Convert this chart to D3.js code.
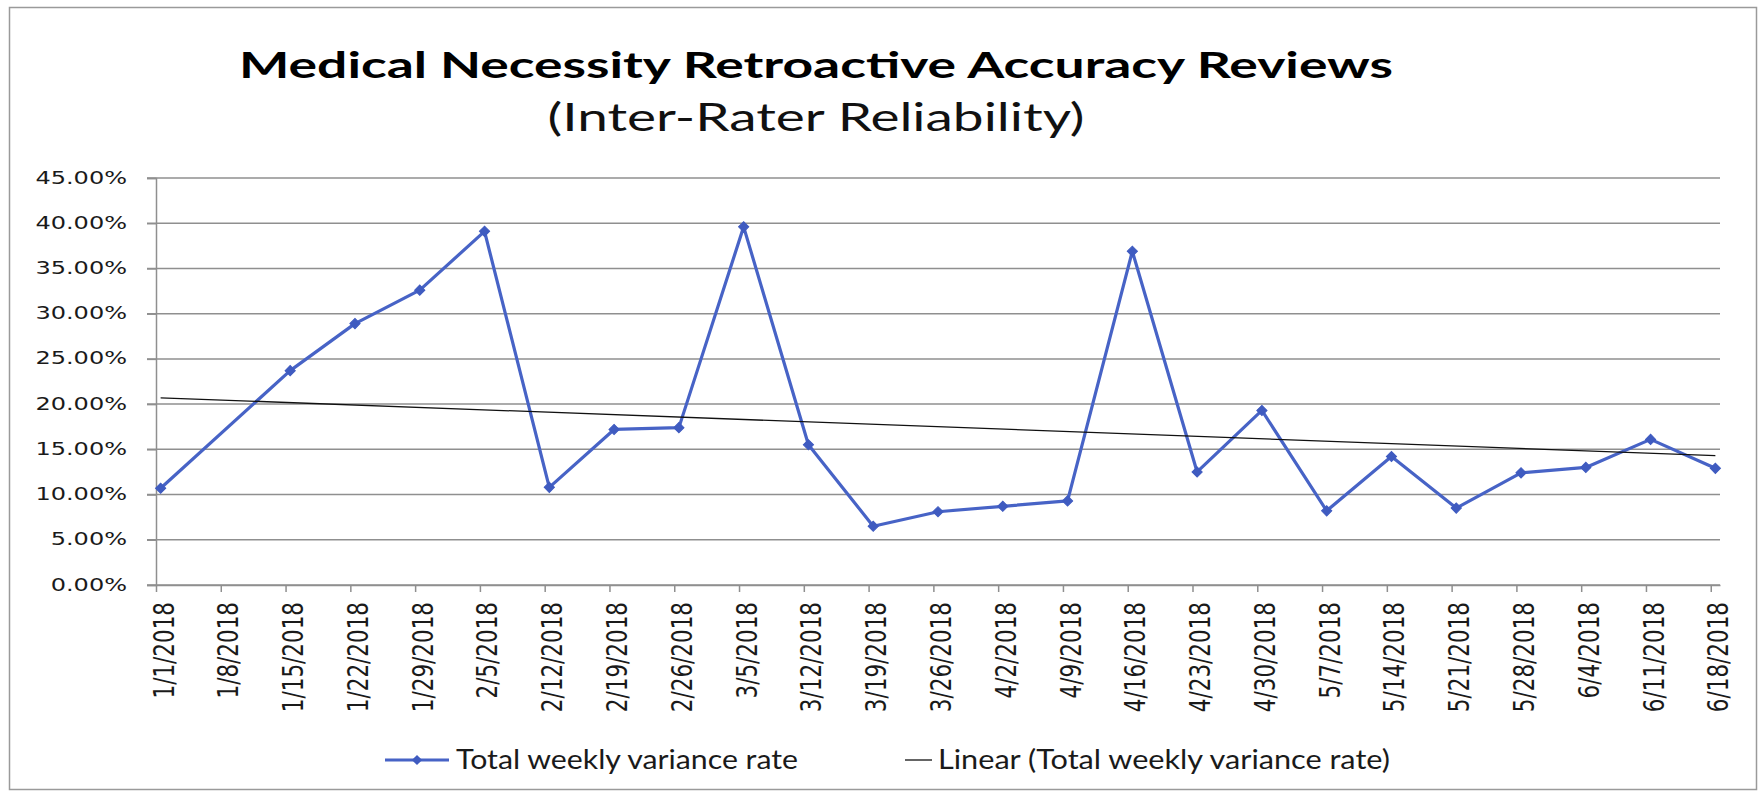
<!DOCTYPE html>
<html>
<head>
<meta charset="utf-8">
<script src="https://cdn.jsdelivr.net/npm/d3@7/dist/d3.min.js"></script>
<style>
  html, body { margin: 0; padding: 0; background: #fff; }
  svg { display: block; }
</style>
</head>
<body>
<svg id="chart" width="1762" height="794"></svg>
<script>
// Weekly review dates (week starting)
const weekLabels = [
  "1/1/2018","1/8/2018","1/15/2018","1/22/2018","1/29/2018","2/5/2018",
  "2/12/2018","2/19/2018","2/26/2018","3/5/2018","3/12/2018","3/19/2018",
  "3/26/2018","4/2/2018","4/9/2018","4/16/2018","4/23/2018","4/30/2018",
  "5/7/2018","5/14/2018","5/21/2018","5/28/2018","6/4/2018","6/11/2018","6/18/2018"
];
// Total weekly variance rate, percent (no review recorded for 1/8)
const varianceRates = [
  10.7, null, 23.7, 28.9, 32.6, 39.1,
  10.8, 17.2, 17.4, 39.6, 15.5, 6.5,
  8.1, 8.7, 9.3, 36.9, 12.5, 19.3,
  8.2, 14.2, 8.5, 12.4, 13.0, 16.1, 12.9
];
// Linear trend values at the first and last week
const trendEnds = [20.7, 14.3];
// Value axis ticks, percent
const yTicks = [0, 5, 10, 15, 20, 25, 30, 35, 40, 45];

const seriesName = "Total weekly variance rate";
const trendName = "Linear (Total weekly variance rate)";
const titleMain = "Medical Necessity Retroactive Accuracy Reviews";
const titleSub = "(Inter-Rater Reliability)";

const parseDate = s => { const [m, d, y] = s.split("/").map(Number); return new Date(y, m - 1, d); };
const dates = weekLabels.map(parseDate);
const halfDay = 12 * 3600 * 1000;

const svg = d3.select("#chart");
const plot = { left: 156, right: 1720, top: 178, bottom: 585 };
const stretch = 1.3;            // wide glyph look of the axis labels
const gridColor = "#8f8f8f";
const blue = "#4763c6";

// Outer chart frame
svg.append("rect")
  .attr("x", 9.5).attr("y", 7.5).attr("width", 1747).attr("height", 782)
  .attr("fill", "#fff").attr("stroke", "#9a9a9a").attr("stroke-width", 1.5);

// Scales: date axis with one slot per day, points centred in their day
const x = d3.scaleTime()
  .domain([dates[0], d3.timeDay.offset(dates[dates.length - 1], 1)])
  .range([plot.left, plot.right]);
const y = d3.scaleLinear().domain([0, 45]).range([plot.bottom, plot.top]);
const px = d => x(new Date(d.getTime() + halfDay));

// Horizontal gridlines
svg.append("g").selectAll("line").data(yTicks).join("line")
  .attr("x1", plot.left - 9).attr("x2", plot.right)
  .attr("y1", d => y(d)).attr("y2", d => y(d))
  .attr("stroke", gridColor).attr("stroke-width", 1.5);

// Value axis
const yAxis = svg.append("g").attr("transform", `translate(${plot.left},0)`)
  .call(d3.axisLeft(y).tickValues(yTicks).tickSize(9).tickPadding(0)
    .tickFormat(d => d.toFixed(2) + "%"));
yAxis.select(".domain").attr("stroke", gridColor).attr("stroke-width", 1.5);
yAxis.selectAll(".tick line").attr("stroke", gridColor).attr("stroke-width", 1.5);
yAxis.selectAll(".tick text")
  .attr("font-family", "DejaVu Sans").attr("font-size", 18.5).attr("fill", "#1a1a1a")
  .attr("x", -29 / stretch).attr("dy", null).attr("y", 5)
  .attr("transform", `scale(${stretch},1)`);

// Date axis
const xAxis = svg.append("g").attr("transform", `translate(0,${plot.bottom})`)
  .call(d3.axisBottom(x).tickValues(dates).tickSize(7).tickSizeOuter(0)
    .tickFormat((d, i) => weekLabels[i]));
xAxis.select(".domain").attr("stroke", gridColor).attr("stroke-width", 1.5);
xAxis.selectAll(".tick line").attr("stroke", gridColor).attr("stroke-width", 1.5);
xAxis.selectAll(".tick text")
  .attr("font-family", "DejaVu Sans").attr("font-size", 21.5).attr("fill", "#1a1a1a")
  .attr("text-anchor", "end").attr("x", 0).attr("y", 0).attr("dy", "0.36em")
  .attr("transform", `translate(7,17) rotate(-90) scale(1,${stretch})`);

// Series: the empty week is bridged by the line
const points = dates.map((d, i) => ({ date: d, v: varianceRates[i] })).filter(p => p.v != null);
const line = d3.line().x(p => px(p.date)).y(p => y(p.v));
svg.append("path").datum(points)
  .attr("d", line).attr("fill", "none")
  .attr("stroke", blue).attr("stroke-width", 3.2).attr("stroke-linejoin", "round");

// Linear trendline
const trend = [
  { date: dates[0], v: trendEnds[0] },
  { date: dates[dates.length - 1], v: trendEnds[1] }
];
svg.append("path").datum(trend)
  .attr("d", line).attr("fill", "none")
  .attr("stroke", "#111").attr("stroke-width", 1.3);

// Diamond markers
const diamond = d3.symbol(d3.symbolSquare, 52);
svg.append("g").selectAll("path").data(points).join("path")
  .attr("d", diamond)
  .attr("transform", p => `translate(${px(p.date)},${y(p.v)}) rotate(45)`)
  .attr("fill", "#3f5bc0").attr("stroke", "#3f5bc0").attr("stroke-width", 1);

// Title
svg.append("text")
  .attr("x", 816).attr("y", 78).attr("text-anchor", "middle")
  .attr("font-family", "Lato").attr("font-weight", 700).attr("font-size", 37)
  .attr("textLength", 1154).attr("lengthAdjust", "spacingAndGlyphs")
  .attr("fill", "#000").text(titleMain);
svg.append("text")
  .attr("x", 816).attr("y", 131).attr("text-anchor", "middle")
  .attr("font-family", "Lato").attr("font-size", 38)
  .attr("textLength", 537).attr("lengthAdjust", "spacingAndGlyphs")
  .attr("fill", "#111").text(titleSub);

// Legend
const legend = svg.append("g").attr("transform", "translate(0,760)");
legend.append("line").attr("x1", 385).attr("x2", 449).attr("y1", 0).attr("y2", 0)
  .attr("stroke", blue).attr("stroke-width", 3.2);
legend.append("path").attr("d", diamond)
  .attr("transform", "translate(417,0) rotate(45)").attr("fill", "#3f5bc0");
legend.append("text").attr("x", 456).attr("y", 9)
  .attr("font-family", "Lato").attr("font-size", 27).attr("fill", "#1a1a1a")
  .attr("textLength", 342).attr("lengthAdjust", "spacingAndGlyphs")
  .text(seriesName);
legend.append("line").attr("x1", 905).attr("x2", 932).attr("y1", 0).attr("y2", 0)
  .attr("stroke", "#111").attr("stroke-width", 1.3);
legend.append("text").attr("x", 938).attr("y", 9)
  .attr("font-family", "Lato").attr("font-size", 27).attr("fill", "#1a1a1a")
  .attr("textLength", 452).attr("lengthAdjust", "spacingAndGlyphs")
  .text(trendName);
</script>
</body>
</html>
